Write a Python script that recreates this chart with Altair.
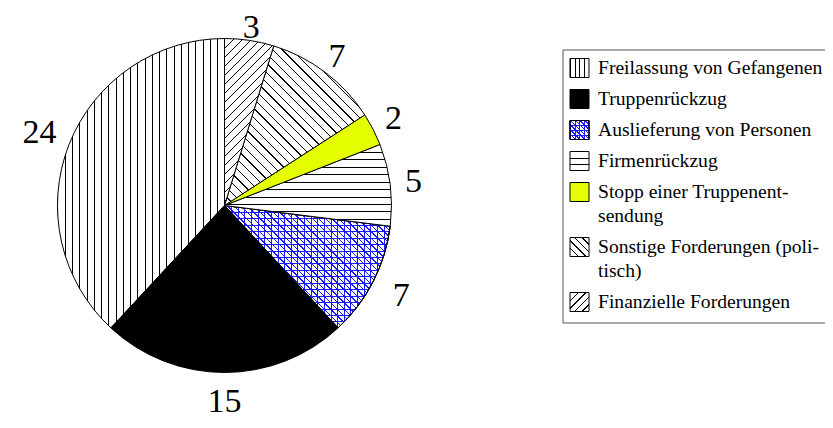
import math
import altair as alt
import pandas as pd

# ---------------- data (legend order) ----------------
categories = [
    "Freilassung von Gefangenen",
    "Truppenrückzug",
    "Auslieferung von Personen",
    "Firmenrückzug",
    "Stopp einer Truppenentsendung",
    "Sonstige Forderungen (politisch)",
    "Finanzielle Forderungen",
]
legend_labels = [
    "Freilassung von Gefangenen",
    "Truppenrückzug",
    "Auslieferung von Personen",
    "Firmenrückzug",
    "Stopp einer Truppenent-\nsendung",
    "Sonstige Forderungen (poli-\ntisch)",
    "Finanzielle Forderungen",
]
values = [24, 15, 7, 5, 2, 7, 3]

# ---------------- layout / style ----------------
W, H = 817, 412
CX, CY, R = 216.5, 197.5, 167
LABEL_FONT = 34
BOX_X, BOX_Y0, BOX_Y1 = 555, 42, 315
LEG_X, SYM, TEXT_X = 562, 19, 590
LEG_FONT = 19.6
LEG_Y0, ROW_STEP, LINE_STEP = 60, 31, 24
TAU = 2 * math.pi
TOTAL = sum(values)
EPS = 0.0001
BLUE = "#1a1aff"
CLEAR = "rgba(255,255,255,0)"
SERIF = "Liberation Serif"

# pattern: list of (kind, pie spacing, legend spacing, line colour, background) or a solid colour
STYLE = {
    categories[0]: [("v", 7.3, 4.75, "black", "white")],
    categories[1]: "black",
    categories[2]: [("h", 6.6, 4.75, BLUE, "white"),
                    ("v", 6.6, 4.75, BLUE, CLEAR),
                    ("\\", 4.67, 3.36, BLUE, CLEAR)],
    categories[3]: [("h", 7.3, 6.33, "black", "white")],
    categories[4]: "#e6ff00",
    categories[5]: [("\\", 6.8, 5.4, "black", "white")],
    categories[6]: [("/", 6.3, 5.4, "black", "white")],
}


def stripe_fill(kind, spacing, line, bg, w, h, lw=1.0):
    if kind == "v":
        x1, y1, x2, y2 = 0, 0, 1, 0
        L = w
    elif kind == "h":
        x1, y1, x2, y2 = 0, 0, EPS, 1
        L = h
    else:
        s = (w + h) / (w * w + h * h)
        L = (w + h) / math.sqrt(2)
        if kind == "/":
            x1, y1, x2, y2 = 0, 0, w * s, h * s
        else:
            x1, y1, x2, y2 = 0, 1, w * s, 1 - h * s
            if abs(y2) < EPS:
                y2 = EPS
    n = max(1, round(L / spacing))
    f = min(0.5, lw / (L / n))
    stops = []
    for i in range(n):
        a, b, e = i / n, (i + f) / n, (i + 1) / n
        stops += [{"offset": a, "color": line}, {"offset": b, "color": line},
                  {"offset": b, "color": bg}, {"offset": e, "color": bg}]
    return {"gradient": "linear", "x1": x1, "y1": y1, "x2": x2, "y2": y2, "stops": stops}


def arc_bbox(v0, v1):
    a0, a1 = v0 / TOTAL * TAU, v1 / TOTAL * TAU
    angs = [a0, a1] + [k * math.pi / 2 for k in range(5) if a0 < k * math.pi / 2 < a1]
    xs = [0.0] + [R * math.sin(a) for a in angs]
    ys = [0.0] + [-R * math.cos(a) for a in angs]
    return max(xs) - min(xs), max(ys) - min(ys)


# pie: clockwise from 12 o'clock, reverse of legend order
rows, cum = [], 0
for c, v in reversed(list(zip(categories, values))):
    mid = cum + v / 2
    th = mid / TOTAL * TAU
    half_w = len(str(v)) * LABEL_FONT * 0.27 + 7
    half_h = 12.5
    lr = 174.2 - 9.7 * math.cos(th) + abs(math.sin(th)) * half_w + abs(math.cos(th)) * half_h
    rows.append(dict(cat=c, value=v, start=cum, end=cum + v, mid=mid, lr=lr))
    cum += v
pie_df = pd.DataFrame(rows)

# legend rows
leg_rows, line_rows = [], []
y = LEG_Y0
for c, lab in zip(categories, legend_labels):
    lines = lab.split("\n")
    leg_rows.append(dict(cat=c, y0=y - SYM / 2, y1=y + SYM / 2))
    for k, ln in enumerate(lines):
        line_rows.append(dict(cat=c, text=ln, y=y + k * LINE_STEP))
    y += ROW_STEP + (len(lines) - 1) * LINE_STEP
leg_df = pd.DataFrame(leg_rows)
line_df = pd.DataFrame(line_rows)

theta_scale = alt.Scale(domain=[0, TOTAL], range=[0, TAU])

layers = []
# legend box
layers.append(
    alt.Chart(pd.DataFrame({"cat": ["box"]})).mark_rect(
        fill="white", stroke="#555555", strokeWidth=1
    ).encode(x=alt.value(BOX_X), x2=alt.value(W + 20), y=alt.value(BOX_Y0), y2=alt.value(BOX_Y1))
)

for c in categories:
    r = pie_df[pie_df.cat == c].iloc[0]
    bw, bh = arc_bbox(r.start, r.end)
    st = STYLE[c]
    fills_pie = [st] if isinstance(st, str) else [
        stripe_fill(k, sp, lc, bg, bw, bh) for (k, sp, _, lc, bg) in st]
    fills_leg = [st] if isinstance(st, str) else [
        stripe_fill(k, sl, lc, bg, SYM, SYM) for (k, _, sl, lc, bg) in st]
    for fl in fills_pie:
        layers.append(
            alt.Chart(pie_df).transform_filter(alt.datum.cat == c).mark_arc(
                fill=fl, stroke="black", strokeWidth=1, radius=R
            ).encode(
                theta=alt.Theta("start:Q", scale=theta_scale, stack=None),
                theta2="end:Q",
                x=alt.value(CX), y=alt.value(CY),
            )
        )
    for fl in fills_leg:
        layers.append(
            alt.Chart(leg_df).transform_filter(alt.datum.cat == c).mark_rect(
                fill=fl, stroke="black", strokeWidth=1
            ).encode(
                x=alt.value(LEG_X), x2=alt.value(LEG_X + SYM),
                y=alt.Y("y0:Q", scale=None, axis=None), y2="y1:Q",
            )
        )

# pie value labels
layers.append(
    alt.Chart(pie_df).mark_text(
        font=SERIF, fontSize=LABEL_FONT, align="center", baseline="middle", color="black"
    ).encode(
        theta=alt.Theta("mid:Q", scale=theta_scale, stack=None),
        radius=alt.Radius("lr:Q", scale=None),
        x=alt.value(CX), y=alt.value(CY),
        text="value:Q",
    )
)

# legend text
layers.append(
    alt.Chart(line_df).mark_text(
        font=SERIF, fontSize=LEG_FONT, align="left", baseline="middle", color="black"
    ).encode(
        x=alt.value(TEXT_X),
        y=alt.Y("y:Q", scale=None, axis=None),
        text="text:N",
    )
)

chart = alt.layer(*layers).properties(
    width=W, height=H, padding=0, autosize="none", background="white"
).configure_view(strokeWidth=0)

chart.save("out.html", embed_options={"renderer": "svg", "actions": False})
